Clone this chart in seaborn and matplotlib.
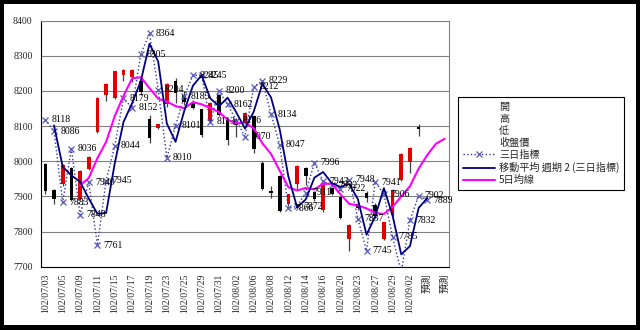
import numpy as np
import pandas as pd
import matplotlib
matplotlib.use("Agg")
import matplotlib.pyplot as plt
import seaborn as sns
from matplotlib.lines import Line2D
from matplotlib.patches import Rectangle

# ---------------- data ----------------
dates = ["102/07/03", "102/07/04", "102/07/05", "102/07/08", "102/07/09", "102/07/10",
         "102/07/11", "102/07/12", "102/07/15", "102/07/16", "102/07/17", "102/07/18",
         "102/07/19", "102/07/22", "102/07/23", "102/07/24", "102/07/25", "102/07/26",
         "102/07/29", "102/07/30", "102/07/31", "102/08/01", "102/08/02", "102/08/05",
         "102/08/06", "102/08/07", "102/08/08", "102/08/09", "102/08/12", "102/08/13",
         "102/08/14", "102/08/15", "102/08/16", "102/08/19", "102/08/20", "102/08/22",
         "102/08/23", "102/08/26", "102/08/27", "102/08/28", "102/08/29", "102/08/30",
         "102/09/02", "102/09/03", "預測", "預測", "預測"]

open_ = [7992, 7919, 7934, 7982, 7893, 7977, 8082, 8189, 8180, 8246, 8241, 8228,
         8119, 8095, 8162, 8229, 8188, 8168, 8148, 8114, 8188, 8118, 8118, 8110,
         8128, 7996, 7915, 7958, 7877, 7934, 7980, 7912, 7862, 7925, 7898, 7780,
         7878, 7910, 7876, 7778, 7848, 7948, 7997, 8098]
high = [7995, 7922, 7992, 7985, 7975, 8015, 8183, 8222, 8258, 8262, 8262, 8236,
        8133, 8106, 8224, 8238, 8200, 8175, 8150, 8170, 8192, 8122, 8124, 8140,
        8131, 8000, 7930, 7960, 7908, 7989, 7983, 7915, 7940, 7928, 7900, 7822,
        7885, 7915, 7880, 7828, 7920, 8023, 8042, 8106]
low = [7908, 7878, 7930, 7888, 7890, 7975, 8080, 8172, 8178, 8228, 8225, 8190,
       8052, 8093, 8155, 8167, 8160, 8148, 8070, 8110, 8130, 8045, 8070, 8105,
       8024, 7918, 7895, 7855, 7874, 7920, 7932, 7888, 7855, 7903, 7835, 7744,
       7862, 7885, 7838, 7775, 7845, 7945, 7968, 8072]
close = [7915, 7894, 7988, 7891, 7972, 8013, 8181, 8220, 8257, 8260, 8260, 8198,
         8067, 8105, 8219, 8195, 8170, 8152, 8076, 8167, 8133, 8060, 8102, 8137,
         8036, 7922, 7910, 7858, 7906, 7987, 7957, 7893, 7937, 7906, 7839, 7820,
         7868, 7895, 7843, 7826, 7917, 8021, 8039, 8091]

# 三日指標
indicator = [8118, 8086, 7883, 8036, 7848, 7940, 7761, 7945, 8044, 8179, 8152, 8305,
             8364, 8204, 8010, 8101, 8185, 8245, 8245, 8113, 8200, 8162, 8116, 8070,
             8212, 8229, 8134, 8047, 7866, 7872, 7911, 7996, 7943, 7932, 7922, 7948,
             7837, 7745, 7941, 7906, 7785, 7685, 7832, 7902, 7889]

# 5日均線 (starts at the 5th category)
ma5_line = [7932, 7952, 8009, 8055, 8129, 8186, 8236, 8239, 8208, 8178, 8170, 8157,
            8151, 8168, 8162, 8152, 8140, 8118, 8108, 8110, 8094, 8051, 8021, 7973,
            7926, 7917, 7924, 7920, 7936, 7936, 7906, 7879, 7874, 7866, 7853, 7850,
            7870, 7900, 7929, 7979, 8018, 8050, 8064]

legend_labels = ["開", "高", "低", "收盤價", "三日指標", "移動平均 週期 2 (三日指標)", "5日均線"]

# ---------------- style ----------------
sns.set_style("white")
plt.rcParams["font.family"] = ["Liberation Serif", "Noto Sans CJK TC"]

W, H = 640, 330
fig = plt.figure(figsize=(W / 100, H / 100), dpi=100, facecolor="black")
fig.add_artist(Rectangle((4 / W, 5 / H), 632 / W, 321 / H, transform=fig.transFigure,
                         facecolor="white", edgecolor="none", zorder=-5))

ax = fig.add_axes([41 / W, 1 - 266.7 / H, 408 / W, 246 / H])
ax.set_facecolor("white")

n_cat = len(dates)
idx_c = np.arange(len(close))
o = np.array(open_); c = np.array(close); hi = np.array(high); lo = np.array(low)
up = c >= o
colors = np.where(up, "#e00000", "#000000")

# candles
ax.vlines(idx_c, lo, hi, color="#404040", lw=0.9, zorder=2)
ax.bar(idx_c, np.abs(c - o), bottom=np.minimum(o, c), width=0.42, color=colors,
       linewidth=0, zorder=3)

# three-day indicator
ind = pd.Series(indicator, dtype=float)
idx_i = np.arange(len(ind))
df_i = pd.DataFrame({"x": idx_i, "y": ind})
sns.lineplot(data=df_i, x="x", y="y", ax=ax, color="#3434a8", linestyle=":", lw=1.0,
             marker="x", markersize=4, markeredgewidth=0.9, markeredgecolor="#5a5ab8",
             zorder=4, legend=False)

# 2-period moving average trendline of the indicator
ma2 = ind.rolling(2).mean()
df_m = pd.DataFrame({"x": idx_i[1:], "y": ma2.values[1:]})
sns.lineplot(data=df_m, x="x", y="y", ax=ax, color="#000080", lw=1.3, zorder=5,
             legend=False)

# 5-day line
df_5 = pd.DataFrame({"x": np.arange(4, 4 + len(ma5_line)), "y": ma5_line})
sns.lineplot(data=df_5, x="x", y="y", ax=ax, color="#ff00ff", lw=1.5, zorder=4.5,
             legend=False)

# data labels
for i, v in enumerate(indicator):
    if v >= 7700:
        ax.annotate(str(v), (i, v), xytext=(4.5, 0), textcoords="offset points",
                    fontsize=7, va="center", ha="left", color="black", zorder=6,
                    annotation_clip=False)

# axes
ax.set_xlim(-0.5, n_cat - 0.5)
ax.set_ylim(7700, 8400)
ax.set_yticks(range(7700, 8401, 100))
ax.yaxis.grid(True, color="#808080", lw=0.8)
ax.set_axisbelow(True)
ax.set_xlabel("")
ax.set_ylabel("")

ax.set_xticks(range(0, n_cat, 2))
ax.set_xticklabels([dates[i] for i in range(0, n_cat, 2)], rotation=90, fontsize=7)
ax.set_xticks(np.arange(-0.5, n_cat, 1), minor=True)
ax.tick_params(axis="x", which="major", length=0, pad=5)
ax.tick_params(axis="x", which="minor", length=3, direction="out", color="black", width=0.8)
ax.tick_params(axis="y", length=3, direction="out", pad=3, labelsize=7, color="black")

for s in ["top", "right"]:
    ax.spines[s].set_color("#808080")
    ax.spines[s].set_linewidth(0.8)
for s in ["left", "bottom"]:
    ax.spines[s].set_color("black")
    ax.spines[s].set_linewidth(0.8)

# legend
blank = Line2D([], [], linestyle="none")
handles = [blank, blank, blank, blank,
           Line2D([], [], color="#3434a8", ls=":", lw=1.0, marker="x", markersize=4,
                  markeredgecolor="#5a5ab8", markeredgewidth=0.9),
           Line2D([], [], color="#000080", lw=1.3),
           Line2D([], [], color="#ff00ff", lw=1.5)]
leg = fig.legend(handles, legend_labels, loc="upper left",
                 bbox_to_anchor=(458 / W, 1 - 97 / H), bbox_transform=fig.transFigure,
                 prop={"family": ["Noto Sans CJK TC"], "size": 7.3},
                 frameon=True, fancybox=False, edgecolor="black", framealpha=1,
                 borderaxespad=0, handlelength=3.2, handletextpad=0.4, numpoints=1,
                 labelspacing=0.2, borderpad=0.45)
leg.get_frame().set_linewidth(0.8)

fig.savefig("out.png", dpi=100, facecolor=fig.get_facecolor())
